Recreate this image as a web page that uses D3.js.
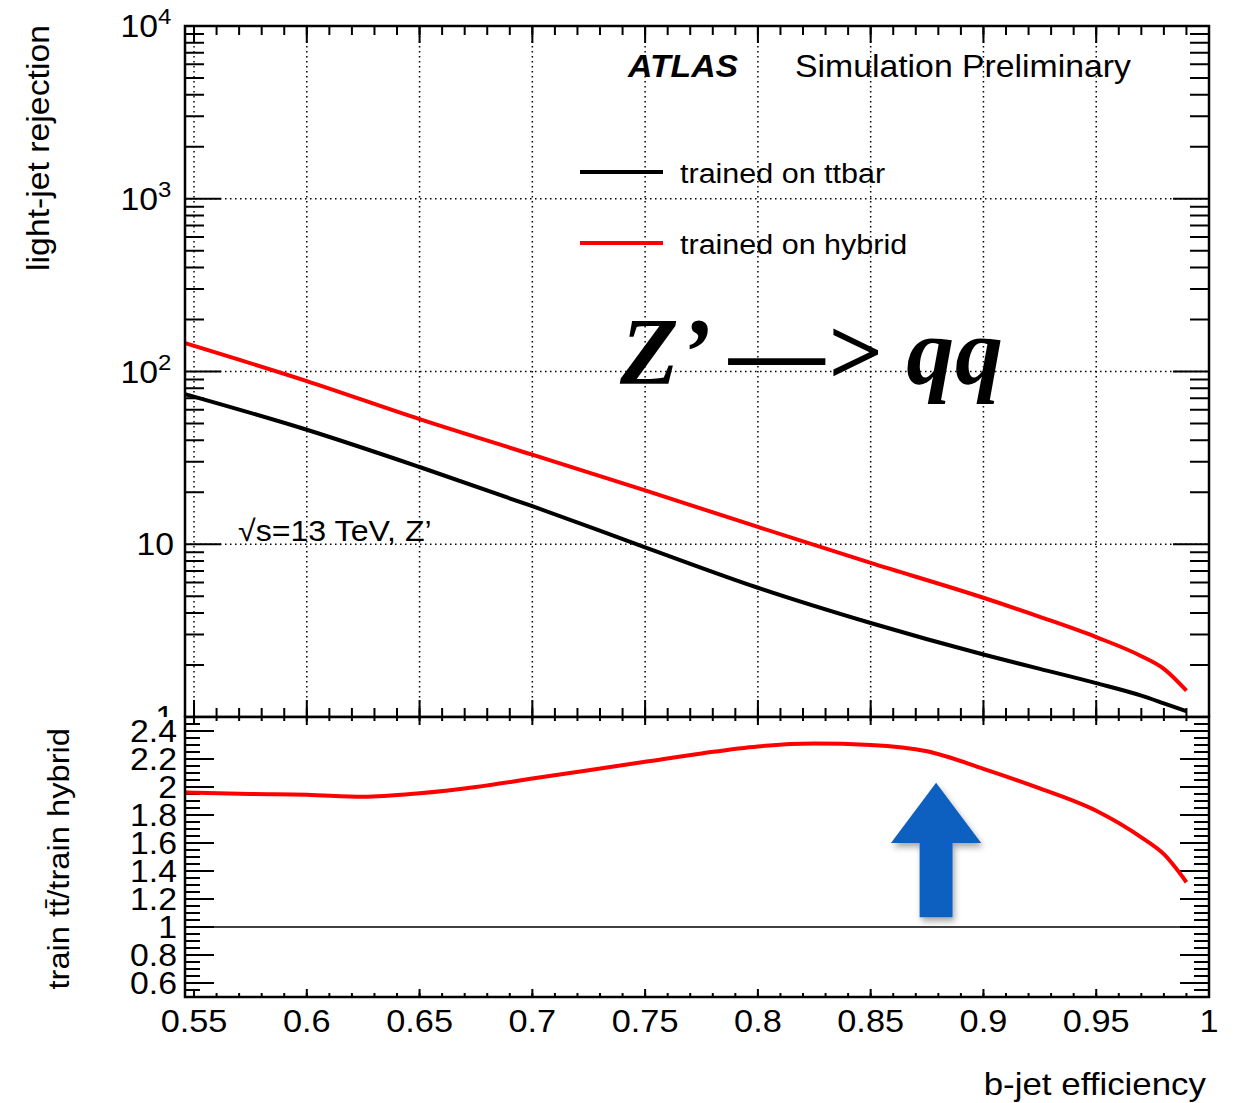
<!DOCTYPE html>
<html>
<head>
<meta charset="utf-8">
<script src="https://cdn.jsdelivr.net/npm/d3@7"></script>
<style>
body { margin: 0; background: #fff; }
svg { font-family: "Liberation Sans", Arial, sans-serif; }
text { fill: #000; }
</style>
</head>
<body>
<div id="chart"></div>
<script>
// ---- data ----
var effs       = [0.546, 0.60, 0.65, 0.70, 0.75, 0.80, 0.85, 0.90, 0.925, 0.95, 0.97, 0.98, 0.99];
var rejTtbar   = [74, 46, 28, 16.6, 9.6, 5.6, 3.5, 2.3, 1.9, 1.57, 1.33, 1.2, 1.08];
var rejHybrid  = [146, 88, 53, 33, 20.5, 12.6, 7.8, 4.9, 3.8, 2.9, 2.25, 1.9, 1.42];
var ratioEffs  = [0.546, 0.575, 0.60, 0.625, 0.65, 0.675, 0.70, 0.725, 0.75, 0.775, 0.80, 0.825, 0.85, 0.875, 0.90, 0.925, 0.95, 0.97, 0.98, 0.99];
var ratioVals  = [1.96, 1.95, 1.945, 1.93, 1.955, 2.0, 2.06, 2.12, 2.18, 2.24, 2.29, 2.31, 2.30, 2.255, 2.13, 1.99, 1.83, 1.64, 1.52, 1.32];
var xTickLabels     = ['0.55', '0.6', '0.65', '0.7', '0.75', '0.8', '0.85', '0.9', '0.95', '1'];
var rejDecades      = [1, 10, 100, 1000, 10000];
var rejDecadeLabels = [['1', ''], ['10', ''], ['10', '2'], ['10', '3'], ['10', '4']];
var ratioTickLabels = ['0.6', '0.8', '1', '1.2', '1.4', '1.6', '1.8', '2', '2.2', '2.4'];
var legendNames     = ['trained on ttbar', 'trained on hybrid'];

// ---- layout ----
var W = 1244, H = 1103,
    left = 185, right = 1209,
    topY = 26, splitY = 717, bottomY = 997,
    sx = 1.09;   // text in the picture is slightly wide

var svg = d3.select('#chart').append('svg')
    .attr('width', W).attr('height', H)
    .style('display', 'block');

var defs = svg.append('defs');
var shadow = defs.append('filter').attr('id', 'shadow')
    .attr('x', '-30%').attr('y', '-30%').attr('width', '160%').attr('height', '160%');
shadow.append('feDropShadow')
    .attr('dx', 2).attr('dy', 4).attr('stdDeviation', 3)
    .attr('flood-color', '#000').attr('flood-opacity', 0.35);

var x = d3.scaleLinear().domain([0.546, 1.0]).range([left, right]);
var yRej = d3.scaleLog().domain([1, 10000]).range([splitY, topY]);
var yRat = d3.scaleLinear().domain([0.5, 2.5]).range([bottomY, splitY]);

// text helper: places text with a small horizontal stretch
function txt(g, px, py, str, size, anchor, rot) {
    var t = g.append('text')
        .attr('transform', 'translate(' + px + ',' + py + ')' +
              (rot ? ' rotate(' + rot + ')' : '') + ' scale(' + sx + ',1)')
        .attr('font-size', size)
        .attr('text-anchor', anchor || 'start')
        .text(str);
    return t;
}

var xMajor = d3.range(0, 10).map(function (i) { return 0.55 + i * 0.05; });
var xMinor = d3.range(0, 46).map(function (i) { return 0.55 + i * 0.01; })
    .filter(function (v) { return v >= 0.546 && v <= 1.0001; });

// ================= upper pad =================
var up = svg.append('g').attr('class', 'upper');

// grid
up.selectAll('line.gx').data(xMajor.slice(0, 9)).enter().append('line')
    .attr('class', 'gx')
    .attr('x1', function (d) { return x(d); }).attr('x2', function (d) { return x(d); })
    .attr('y1', topY).attr('y2', splitY)
    .attr('stroke', '#000').attr('stroke-width', 1.5).attr('stroke-dasharray', '1.5,3.5');
up.selectAll('line.gy').data(rejDecades.slice(1, 4)).enter().append('line')
    .attr('class', 'gy')
    .attr('x1', left).attr('x2', right)
    .attr('y1', function (d) { return yRej(d); }).attr('y2', function (d) { return yRej(d); })
    .attr('stroke', '#000').attr('stroke-width', 1.5).attr('stroke-dasharray', '1.5,3.5');

// y ticks (log): decades long, 2..9 short
var rejMinor = [];
rejDecades.slice(0, 4).forEach(function (d) {
    for (var k = 2; k <= 9; k++) { rejMinor.push(d * k); }
});
function yTicks(g, scale, vals, len) {
    g.selectAll(null).data(vals).enter().append('path')
        .attr('d', function (d) {
            var yy = scale(d);
            return 'M' + left + ',' + yy + 'h' + len + 'M' + right + ',' + yy + 'h' + (-len);
        })
        .attr('stroke', '#000').attr('stroke-width', 2);
}
function xTicks(g, y0, y1, vals, len) {
    g.selectAll(null).data(vals).enter().append('path')
        .attr('d', function (d) {
            var xx = x(d);
            return 'M' + xx + ',' + y1 + 'v' + (-len) + 'M' + xx + ',' + y0 + 'v' + len;
        })
        .attr('stroke', '#000').attr('stroke-width', 2);
}
yTicks(up, yRej, rejDecades, 36);
yTicks(up, yRej, rejMinor, 19);
xTicks(up, topY, splitY, xMajor, 17);
xTicks(up, topY, splitY, xMinor, 9);

// y labels (10^n)
rejDecades.forEach(function (d, i) {
    var lab = rejDecadeLabels[i];
    txt(up, lab[1] ? 158 : 174, yRej(d) + 11, lab[0], 31, 'end');
    if (lab[1]) {
        txt(up, 158, yRej(d) - 2, lab[1], 22, 'start');
    }
});

// curves
var rejLine = function (vals) {
    return d3.line()
        .x(function (d, i) { return x(effs[i]); })
        .y(function (d) { return yRej(d); })
        .curve(d3.curveMonotoneX)(vals);
};
up.append('path').attr('d', rejLine(rejTtbar))
    .attr('fill', 'none').attr('stroke', '#000').attr('stroke-width', 4);
up.append('path').attr('d', rejLine(rejHybrid))
    .attr('fill', 'none').attr('stroke', '#f00').attr('stroke-width', 4);

// frame
up.append('rect').attr('x', left).attr('y', topY)
    .attr('width', right - left).attr('height', splitY - topY)
    .attr('fill', 'none').attr('stroke', '#000').attr('stroke-width', 2.5);

// labels
txt(up, 628, 77, 'ATLAS', 31, 'start')
    .attr('font-weight', 'bold').attr('font-style', 'italic');
txt(up, 795, 77, 'Simulation Preliminary', 31, 'start');

var legColors = ['#000', '#f00'];
legendNames.forEach(function (n, i) {
    var ly = 172 + i * 71;
    up.append('line').attr('x1', 580).attr('x2', 663).attr('y1', ly).attr('y2', ly)
        .attr('stroke', legColors[i]).attr('stroke-width', 4);
    txt(up, 680, ly + 11, n, 28, 'start');
});

up.append('text')
    .attr('x', 620).attr('y', 384)
    .style('font-family', '"Liberation Serif", "Times New Roman", serif')
    .attr('font-weight', 'bold').attr('font-style', 'italic')
    .attr('font-size', 96)
    .attr('textLength', 383).attr('lengthAdjust', 'spacing')
    .text('Z\u2019 \u2014> qq');

txt(up, 238, 541, '\u221As=13 TeV, Z\u2019', 29.5, 'start');

txt(up, 49, 25, 'light-jet rejection', 31, 'end', -90);

// ================= lower pad =================
var lo = svg.append('g').attr('class', 'lower');
lo.append('rect').attr('x', 0).attr('y', splitY).attr('width', W).attr('height', bottomY - splitY + 2)
    .attr('fill', '#fff');

var ratMajor = d3.range(0, 10).map(function (i) { return 0.6 + i * 0.2; });
var ratMinor = d3.range(0, 40).map(function (i) { return 0.5 + i * 0.05; })
    .filter(function (v) { return v > 0.5; });
yTicks(lo, yRat, ratMajor, 29);
yTicks(lo, yRat, ratMinor, 15);
xTicks(lo, splitY, bottomY, xMajor, 8);
xTicks(lo, splitY, bottomY, xMinor, 4);

ratMajor.forEach(function (d, i) {
    txt(lo, 177, yRat(d) + 11, ratioTickLabels[i], 31, 'end');
});

// reference line at 1
lo.append('line')
    .attr('x1', x(0.55)).attr('x2', x(0.99))
    .attr('y1', yRat(1)).attr('y2', yRat(1))
    .attr('stroke', '#000').attr('stroke-width', 1.5);

lo.append('path')
    .attr('d', d3.line()
        .x(function (d, i) { return x(ratioEffs[i]); })
        .y(function (d) { return yRat(d); })
        .curve(d3.curveMonotoneX)(ratioVals))
    .attr('fill', 'none').attr('stroke', '#f00').attr('stroke-width', 4);

// blue arrow annotation
var ax = 0.879, headHalf = 0.02, shaftHalf = 0.0073,
    tipV = 2.03, headV = 1.6, tailV = 1.07;
var arrowPts = [
    [ax, tipV], [ax + headHalf, headV], [ax + shaftHalf, headV], [ax + shaftHalf, tailV],
    [ax - shaftHalf, tailV], [ax - shaftHalf, headV], [ax - headHalf, headV]
];
lo.append('path')
    .attr('d', d3.line().x(function (d) { return x(d[0]); }).y(function (d) { return yRat(d[1]); })(arrowPts) + 'Z')
    .attr('fill', '#0a61c0').attr('filter', 'url(#shadow)');

lo.append('rect').attr('x', left).attr('y', splitY)
    .attr('width', right - left).attr('height', bottomY - splitY)
    .attr('fill', 'none').attr('stroke', '#000').attr('stroke-width', 2.5);

// x labels
xMajor.forEach(function (d, i) {
    txt(lo, x(d), 1032, xTickLabels[i], 31.5, 'middle');
});

txt(lo, 69, 728, 'train t\u0074\u0304/train hybrid', 30, 'end', -90);
txt(lo, 1206, 1095, 'b-jet efficiency', 32, 'end');
</script>
</body>
</html>
